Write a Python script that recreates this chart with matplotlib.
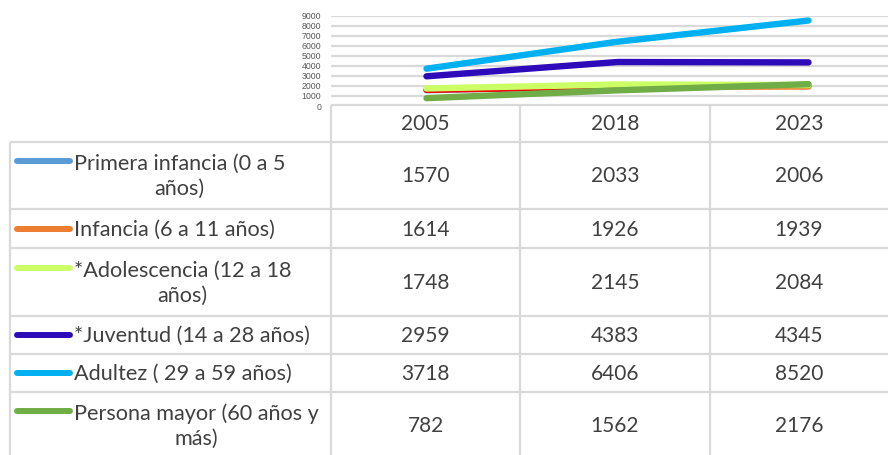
import matplotlib
matplotlib.use("Agg")
import matplotlib.pyplot as plt
from matplotlib.lines import Line2D

years = ["2005", "2018", "2023"]
series_names = [
    "Primera infancia (0 a 5\naños)",
    "Infancia (6 a 11 años)",
    "*Adolescencia (12 a 18\naños)",
    "*Juventud (14 a 28 años)",
    "Adultez ( 29 a 59 años)",
    "Persona mayor (60 años y\nmás)",
]
primera_infancia = [1570, 2033, 2006]
infancia = [1614, 1926, 1939]
adolescencia = [1748, 2145, 2084]
juventud = [2959, 4383, 4345]
adultez = [3718, 6406, 8520]
persona_mayor = [782, 1562, 2176]
series_values = [primera_infancia, infancia, adolescencia, juventud, adultez, persona_mayor]
legend_colors = ["#5B9BD5", "#ED7D31", "#CCFF66", "#2E0BB8", "#00B0F0", "#70AD47"]
y_ticks = list(range(0, 10000, 1000))

W, H = 888, 455
fig = plt.figure(figsize=(W / 100, H / 100), dpi=100)
FONT = "Lato"
txt_color = "#404040"
grid_color = "#D9D9D9"

# chart axes
ax_left, ax_right = 331, 904
ax_top, ax_bottom = 15.7, 106
ax = fig.add_axes([ax_left / W, (H - ax_bottom) / H, (ax_right - ax_left) / W, (ax_bottom - ax_top) / H])
ax.set_xlim(-0.5, 2.5)
ax.set_ylim(0, 9000)
ax.set_yticks(y_ticks)
ax.set_yticklabels([str(t) for t in y_ticks], fontsize=6.3, color="#595959", family="Liberation Sans")
ax.tick_params(axis="y", length=0, pad=7)
ax.set_xticks([])
for s in ax.spines.values():
    s.set_visible(False)
for t in y_ticks[1:]:
    ax.axhline(t, color=grid_color, lw=1.6, zorder=0)

xs = list(range(len(years)))
lw = 4.6
for i, (vals, c) in enumerate(zip(series_values, legend_colors)):
    if i == 1:
        ax.plot(xs[:2], vals[:2], color="#F00000", lw=lw, solid_capstyle="round", zorder=2 + i)
        ax.plot(xs[1:], vals[1:], color=c, lw=lw, solid_capstyle="round", zorder=2 + i)
    else:
        ax.plot(xs, vals, color=c, lw=lw, solid_capstyle="round", zorder=2 + i)

# table overlay
ov = fig.add_axes([0, 0, 1, 1])
ov.set_xlim(0, W)
ov.set_ylim(H, 0)
ov.axis("off")
ov.patch.set_alpha(0)

col_lines = [331, 520, 710]
col_centers = [425.5, 615, 799]
header_top, header_bot = 105, 142
row_bounds = [142, 209, 248, 316, 354, 392, 470]
tl = dict(color=grid_color, lw=1.6, solid_capstyle="butt")

ov.plot([331, W], [header_top, header_top], **tl)
for yb in row_bounds[:-1]:
    ov.plot([10, W], [yb, yb], **tl)
ov.plot([10, 10], [header_bot, H], **tl)
for xc in col_lines:
    ov.plot([xc, xc], [header_top, H], **tl)

fs_num = 15.0
fs_lab = 15.6
for xc, yr in zip(col_centers, years):
    ov.text(xc, (header_top + header_bot) / 2 + 1, yr, ha="center", va="center", fontsize=fs_num, color=txt_color, family=FONT)

line_gap = 29
for r, (name, vals, c) in enumerate(zip(series_names, series_values, legend_colors)):
    y0, y1 = row_bounds[r], row_bounds[r + 1]
    if r == len(series_names) - 1:
        y1 = 392 + 67
    yc = (y0 + y1) / 2
    nlines = name.count("\n") + 1
    first_y = yc - (nlines - 1) * line_gap / 2
    ov.add_line(Line2D([17, 70], [first_y, first_y], color=c, lw=4.3, solid_capstyle="round"))
    ov.text(74, yc + 1, name, ha="left", va="center", multialignment="center", fontsize=fs_lab,
            color=txt_color, family=FONT, linespacing=1.3)
    for xc, v in zip(col_centers, vals):
        ov.text(xc, yc + 1, str(v), ha="center", va="center", fontsize=fs_num, color=txt_color, family=FONT)

fig.savefig("out.png", dpi=100)
